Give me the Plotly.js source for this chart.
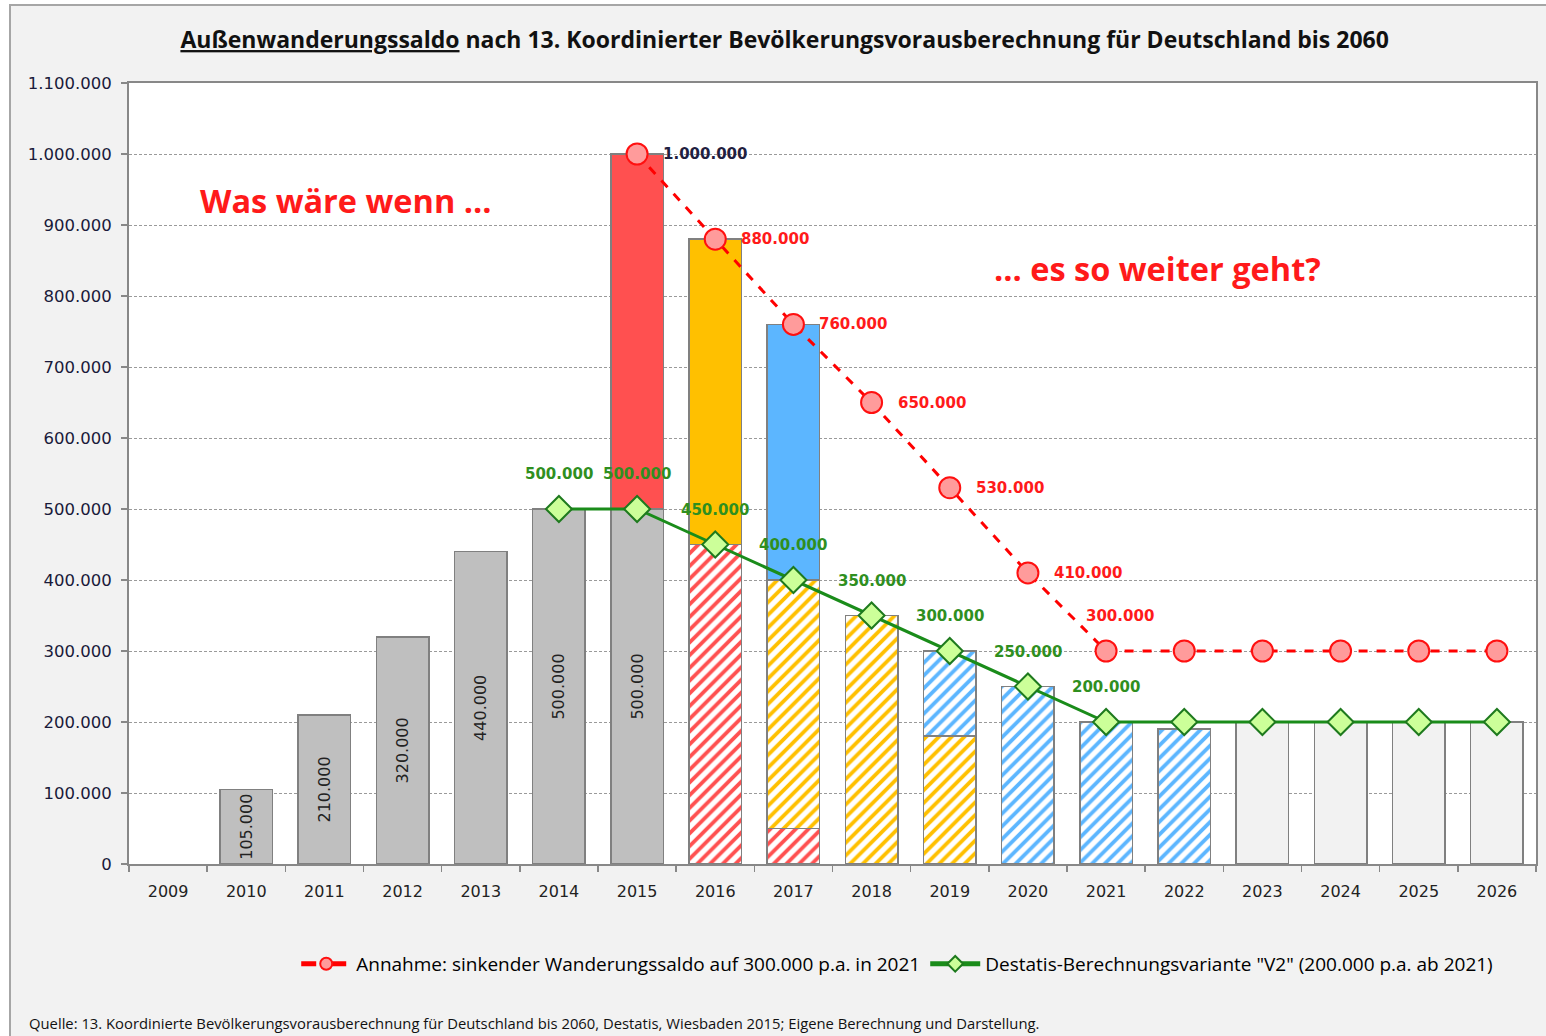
<!DOCTYPE html>
<html><head><meta charset="utf-8">
<script src="https://cdn.plot.ly/plotly-3.0.1.min.js"></script>
<style>
html,body{margin:0;padding:0;background:#fff;}
#wrap{position:absolute;left:9px;top:4px;width:1535px;height:1030px;border-left:2px solid #a6a6a6;border-top:2px solid #a6a6a6;overflow:hidden;}
#chart{width:1535px;height:1030px;}
</style></head><body><div id="wrap"><div id="chart"></div></div>
<script>
// ---- data ----
const years = ['2009','2010','2011','2012','2013','2014','2015','2016','2017','2018','2019','2020','2021','2022','2023','2024','2025','2026'];

const baseYears = ['2010','2011','2012','2013','2014','2015'];
const baseValues = [105000, 210000, 320000, 440000, 500000, 500000];

const c2015SolidYears = ['2015'];
const c2015SolidValues = [500000];
const c2015HatchYears = ['2016','2017'];
const c2015HatchValues = [450000, 50000];

const c2016SolidYears = ['2016'];
const c2016SolidValues = [430000];
const c2016HatchYears = ['2017','2018','2019'];
const c2016HatchValues = [350000, 350000, 180000];

const c2017SolidYears = ['2017'];
const c2017SolidValues = [360000];
const c2017HatchYears = ['2019','2020','2021','2022'];
const c2017HatchValues = [120000, 250000, 200000, 190000];

const futureYears = ['2023','2024','2025','2026'];
const futureValues = [200000, 200000, 200000, 200000];

const redYears = ['2015','2016','2017','2018','2019','2020','2021','2022','2023','2024','2025','2026'];
const redValues = [1000000, 880000, 760000, 650000, 530000, 410000, 300000, 300000, 300000, 300000, 300000, 300000];

const greenYears = ['2014','2015','2016','2017','2018','2019','2020','2021','2022','2023','2024','2025','2026'];
const greenValues = [500000, 500000, 450000, 400000, 350000, 300000, 250000, 200000, 200000, 200000, 200000, 200000, 200000];

const redName = 'Annahme: sinkender Wanderungssaldo auf 300.000 p.a. in 2021';
const greenName = 'Destatis-Berechnungsvariante "V2" (200.000 p.a. ab 2021)';
const titleText = '<b><u>Außenwanderungssaldo</u> nach 13. Koordinierter Bevölkerungsvorausberechnung für Deutschland bis 2060</b>';
const noteLeft = 'Was wäre wenn ...';
const noteRight = '... es so weiter geht?';
const sourceText = 'Quelle: 13. Koordinierte Bevölkerungsvorausberechnung für Deutschland bis 2060, Destatis, Wiesbaden 2015; Eigene Berechnung und Darstellung.';

// ---- helpers ----
const RED = '#ff5050', ORANGE = '#ffc000', BLUE = '#5cb6ff';
const outline = {color:'#808080', width:1.5};
function solidBar(x, y, color){
  return {type:'bar', x:x, y:y, showlegend:false, hoverinfo:'skip', textposition:'none',
    marker:{color:color, line:outline}};
}
function hatchBar(x, y, color){
  return {type:'bar', x:x, y:y, showlegend:false, hoverinfo:'skip', textposition:'none',
    marker:{color:'#ffffff', line:outline,
      pattern:{shape:'/', fgcolor:color, bgcolor:'#ffffff', size:9, solidity:0.42, fgopacity:1, fillmode:'replace'}}};
}
function fmt(v){ return v.toString().replace(/\B(?=(\d{3})+(?!\d))/g,'.'); }
function pos(yr){ return years.indexOf(yr); }

const traces = [
  {type:'bar', x:baseYears, y:baseValues, showlegend:false, hoverinfo:'skip',
   marker:{color:'#bfbfbf', line:outline},
   texttemplate:'%{y:,d}', textposition:'inside', insidetextanchor:'middle', textangle:-90,
   constraintext:'none', textfont:{family:'DejaVu Sans', size:16, color:'#222'}},
  solidBar(c2015SolidYears, c2015SolidValues, RED),
  hatchBar(c2015HatchYears, c2015HatchValues, RED),
  hatchBar(c2016HatchYears, c2016HatchValues, ORANGE),
  solidBar(c2016SolidYears, c2016SolidValues, ORANGE),
  hatchBar(c2017HatchYears, c2017HatchValues, BLUE),
  solidBar(c2017SolidYears, c2017SolidValues, BLUE),
  solidBar(futureYears, futureValues, '#f2f2f2'),
  {type:'scatter', mode:'lines+markers', name:redName, x:redYears, y:redValues, hoverinfo:'skip',
   line:{color:'#ff0000', width:3, dash:'dash'},
   marker:{symbol:'circle', size:21, color:'#ff9b9b', line:{color:'#ff1010', width:2}}},
  {type:'scatter', mode:'lines+markers', name:greenName, x:greenYears, y:greenValues, hoverinfo:'skip',
   line:{color:'#1a8c1a', width:3},
   marker:{symbol:'diamond', size:20, color:'#ccff99', line:{color:'#1e7a1e', width:2}}}
];

const annotations = [];
const labelFont = (c)=>({family:'DejaVu Sans', size:15, color:c, weight:'bold'});
// red labels: right of the marker until the floor; floor label above-right once
const redFloor = Math.min.apply(null, redValues);
let redFloorSeen = false;
redValues.forEach((v,i)=>{
  if (v === redFloor){
    if (redFloorSeen) return;
    redFloorSeen = true;
    annotations.push({x:pos(redYears[i]), y:v, xref:'x', yref:'y', text:fmt(v), showarrow:false,
      xanchor:'center', yanchor:'middle', xshift:14, yshift:35, font:labelFont('#ff1a1a')});
    return;
  }
  annotations.push({x:pos(redYears[i]), y:v, xref:'x', yref:'y', text:fmt(v), showarrow:false,
    xanchor:'left', yanchor:'middle', xshift:24, font:labelFont(i===0 ? '#1f2040' : '#ff1a1a')});
});
// green labels above, until the floor is first reached
const greenFloor = Math.min.apply(null, greenValues);
let greenFloorSeen = false;
greenValues.forEach((v,i)=>{
  if (greenFloorSeen) return;
  if (v === greenFloor) greenFloorSeen = true;
  annotations.push({x:pos(greenYears[i]), y:v, xref:'x', yref:'y', text:fmt(v), showarrow:false,
    xanchor:'center', yanchor:'middle', yshift:35, font:labelFont('#2f8f1f')});
});
annotations.push({xref:'paper', yref:'paper', x:0.154, y:0.85, text:'<b>'+noteLeft+'</b>', showarrow:false,
  xanchor:'center', yanchor:'middle', font:{family:'Open Sans', size:32.5, color:'#ff1a1a'}});
annotations.push({xref:'paper', yref:'paper', x:0.731, y:0.763, text:'<b>'+noteRight+'</b>', showarrow:false,
  xanchor:'center', yanchor:'middle', font:{family:'Open Sans', size:32.5, color:'#ff1a1a'}});
annotations.push({xref:'paper', yref:'paper', x:-0.0725, y:-0.2036, text:sourceText, showarrow:false,
  xanchor:'left', yanchor:'middle', font:{family:'Open Sans', size:14.8, color:'#111'}});

const layout = {
  width:1535, height:1030,
  paper_bgcolor:'#f2f2f2', plot_bgcolor:'#ffffff',
  margin:{l:118, r:10, t:77, b:172},
  separators:',.',
  barmode:'stack', bargap:0.33,
  font:{family:'DejaVu Sans', color:'#222'},
  title:{text:titleText, font:{family:'Open Sans', size:23, color:'#111'},
    xref:'container', yref:'container', x:0.504, y:0.967, xanchor:'center', yanchor:'middle'},
  xaxis:{type:'category', categoryorder:'array', categoryarray:years, range:[-0.5, 17.5],
    tickson:'boundaries', ticks:'outside', ticklen:6, tickcolor:'#888', tickwidth:1.5,
    showline:true, linecolor:'#888', linewidth:2, mirror:true, showgrid:false,
    tickfont:{family:'DejaVu Sans', size:16, color:'#222'}, ticklabelstandoff:12},
  yaxis:{range:[0, 1100000], dtick:100000, tickformat:',d', ticks:'outside', ticklen:6,
    tickcolor:'#888', tickwidth:1.5, showline:true, linecolor:'#888', linewidth:2, mirror:true,
    gridcolor:'#9a9a9a', griddash:'3px,2px', gridwidth:1, zeroline:false,
    tickfont:{family:'DejaVu Sans', size:16.5, color:'#1a1a3a'}, ticklabelstandoff:6},
  legend:{orientation:'h', x:0.546, xanchor:'center', y:-0.128, yanchor:'middle',
    font:{family:'Open Sans', size:19, color:'#000'}, itemsizing:'constant', itemwidth:50,
    bgcolor:'rgba(0,0,0,0)', traceorder:'normal'},
  annotations:annotations
};

Plotly.newPlot('chart', traces, layout, {displayModeBar:false, staticPlot:true});
</script></body></html>
